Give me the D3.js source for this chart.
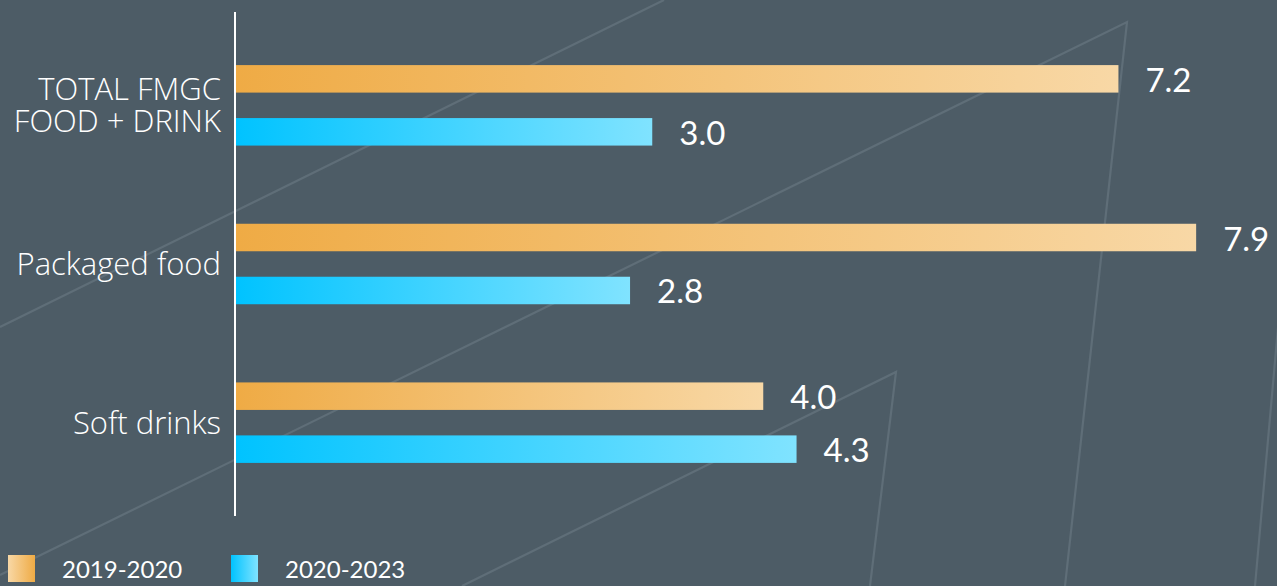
<!DOCTYPE html>
<html>
<head>
<meta charset="utf-8">
<script src="https://cdn.jsdelivr.net/npm/d3@7"></script>
<style>
  html, body { margin: 0; padding: 0; background: #4d5c66; }
  svg { display: block; }
</style>
</head>
<body>
<svg id="chart" width="1277" height="586"></svg>
<script>
// ---- data ----
const categories = ["TOTAL FMGC\nFOOD + DRINK", "Packaged food", "Soft drinks"];
const seriesNames = ["2019-2020", "2020-2023"];
const values2019_2020 = [7.2, 7.9, 4.0];
const values2020_2023 = [3.0, 2.8, 4.3];

// ---- setup ----
const W = 1277, H = 586;
const svg = d3.select("#chart");
const bg = "#4d5c66";
svg.append("rect").attr("width", W).attr("height", H).attr("fill", bg);

// decorative background lines
const deco = [
  [[0, 327], [664, 0]],
  [[0, 575], [1127, 22], [1065, 586]],
  [[462, 586], [896, 372], [870, 586]],
  [[1280, 305], [1255, 586]]
];
svg.append("g").selectAll("path").data(deco).join("path")
  .attr("d", d3.line())
  .attr("fill", "none")
  .attr("stroke", "#5f6e78")
  .attr("stroke-width", 2.2);

// gradients
const defs = svg.append("defs");
const gradDefs = [
  { id: "gOrange", from: "#efab45", to: "#f8d8a6" },
  { id: "gBlue", from: "#00c3ff", to: "#80e3ff" },
  { id: "gOrangeRev", from: "#f8d8a6", to: "#efab45" },
  { id: "gBlueLeg", from: "#00c3ff", to: "#80e3ff" }
];
gradDefs.forEach(g => {
  const lg = defs.append("linearGradient").attr("id", g.id)
    .attr("x1", "0%").attr("x2", "100%").attr("y1", "0%").attr("y2", "0%");
  lg.append("stop").attr("offset", "0%").attr("stop-color", g.from);
  lg.append("stop").attr("offset", "100%").attr("stop-color", g.to);
});
const fills = ["url(#gOrange)", "url(#gBlue)"];
const legendFills = ["url(#gOrangeRev)", "url(#gBlueLeg)"];

// scales
const x = d3.scaleLinear().domain([-0.75, 9]).range([236, 236 + 9.75 * 111]);
const y0 = d3.scaleBand().domain(categories).range([26, 502]).padding(0);
const y1 = d3.scaleBand().domain(seriesNames).range([0, y0.bandwidth()])
  .paddingInner(0.481).paddingOuter(0.738);

const rows = categories.map((c, i) => ({
  cat: c,
  vals: [values2019_2020[i], values2020_2023[i]]
}));

const font = "Lato, 'Open Sans', sans-serif";
const catFont = "'Open Sans', Lato, sans-serif";

const groups = svg.append("g").selectAll("g").data(rows).join("g")
  .attr("transform", d => `translate(0,${y0(d.cat)})`);

groups.selectAll("rect").data(d => d.vals.map((v, j) => ({ v, s: seriesNames[j], j })))
  .join("rect")
  .attr("x", x(x.domain()[0]))
  .attr("y", d => y1(d.s))
  .attr("width", d => x(d.v) - x(x.domain()[0]))
  .attr("height", y1.bandwidth())
  .attr("fill", d => fills[d.j]);

groups.selectAll("text.val").data(d => d.vals.map((v, j) => ({ v, s: seriesNames[j], j })))
  .join("text").attr("class", "val")
  .attr("x", d => x(d.v) + 27)
  .attr("y", d => y1(d.s) + y1.bandwidth() / 2 + 13)
  .attr("fill", "#ffffff")
  .attr("font-family", font)
  .attr("font-size", 33)
  .text(d => d3.format(".1f")(d.v));

// category labels
groups.append("text")
  .attr("text-anchor", "end")
  .attr("fill", "#ffffff")
  .attr("font-family", catFont)
  .attr("font-weight", 300)
  .attr("font-size", 31)
  .each(function (d) {
    const lines = d.cat.split("\n");
    const c = y0.bandwidth() / 2;
    const lh = 32;
    const first = c + 11 - (lines.length - 1) * lh / 2;
    d3.select(this).selectAll("tspan").data(lines).join("tspan")
      .attr("x", 221)
      .attr("y", (l, k) => first + k * lh)
      .text(l => l);
  });

// axis line
svg.append("line")
  .attr("x1", 235).attr("x2", 235)
  .attr("y1", 12).attr("y2", 516)
  .attr("stroke", "#ffffff").attr("stroke-width", 2);

// legend
const legendX = [8, 231];
const lg = svg.append("g").selectAll("g").data(seriesNames).join("g")
  .attr("transform", (d, i) => `translate(${legendX[i]},555)`);
lg.append("rect").attr("width", 27).attr("height", 27)
  .attr("fill", (d, i) => legendFills[i]);
lg.append("text").attr("x", 54).attr("y", 23)
  .attr("fill", "#ffffff")
  .attr("font-family", font)
  .attr("font-size", 24)
  .text(d => d);
</script>
</body>
</html>
